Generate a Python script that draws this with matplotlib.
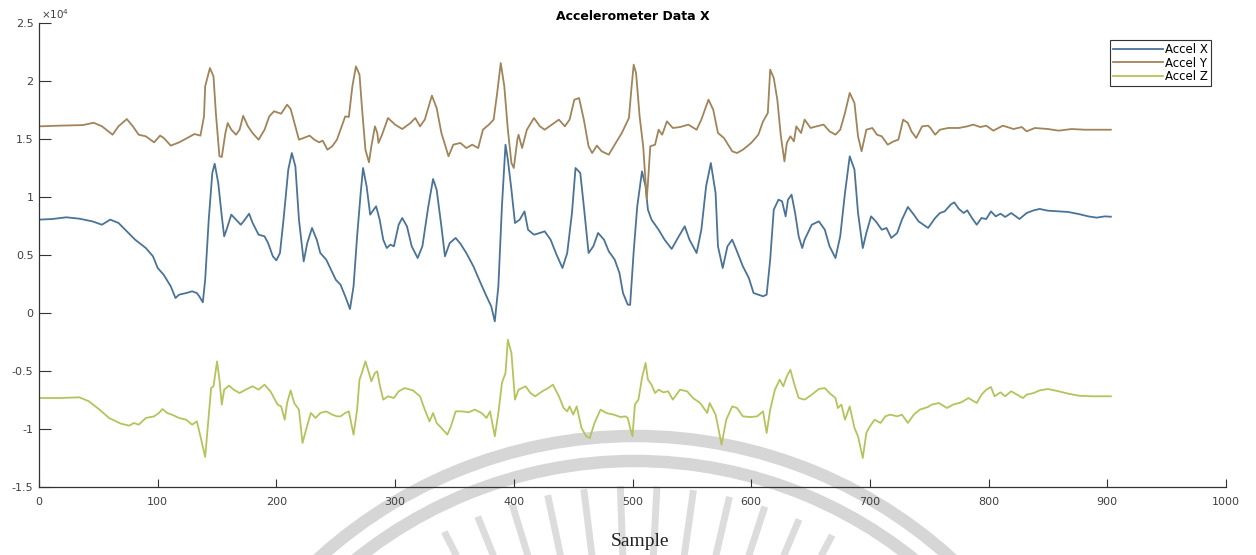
import matplotlib
matplotlib.use('Agg')
import matplotlib.pyplot as plt
from matplotlib.patches import Arc
from matplotlib.ticker import FuncFormatter
import numpy as np

# sample index / raw reading pairs for each axis of the accelerometer
x_idx = [0, 11, 23, 34, 45, 53, 60, 67, 74, 81, 90, 96, 100, 105, 111, 115, 118, 124, 129, 133,
         135, 138, 140, 143, 146, 148, 151, 154, 156, 158, 162, 166, 170, 173, 177, 180, 185, 190,
         193, 197, 200, 203, 206, 210, 213, 216, 219, 223, 226, 230, 234, 237, 242, 246, 250, 254,
         258, 262, 265, 268, 271, 273, 276, 279, 282, 284, 287, 290, 293, 296, 299, 303, 306, 310,
         314, 319, 323, 328, 332, 335, 339, 342, 346, 351, 355, 360, 366, 372, 377, 381, 384, 387,
         390, 393, 395, 398, 401, 405, 409, 412, 417, 422, 426, 431, 436, 441, 445, 449, 452, 456,
         459, 463, 467, 471, 476, 480, 485, 489, 492, 496, 498, 501, 504, 508, 511, 513, 516, 522,
         527, 533, 539, 544, 548, 554, 558, 562, 566, 570, 572, 576, 580, 584, 588, 593, 598, 602,
         606, 610, 613, 616, 619, 623, 626, 629, 631, 634, 637, 640, 643, 645, 651, 657, 662, 666,
         671, 675, 679, 683, 687, 690, 694, 697, 701, 705, 710, 714, 718, 723, 727, 732, 737, 741,
         745, 749, 755, 759, 763, 768, 771, 775, 779, 782, 786, 790, 794, 798, 802, 806, 810, 814,
         819, 823, 826, 832, 838, 843, 850, 859, 867, 876, 884, 891, 898, 903]
accel_x = [8050, 8100, 8250, 8130, 7900, 7610, 8050, 7760, 7040, 6320, 5600, 4890, 3880, 3300, 2300,
           1290, 1580, 1720, 1870, 1720, 1440, 920, 2870, 8050, 12070, 12870, 11210, 8330, 6610,
           7180, 8480, 8050, 7610, 7990, 8560, 7760, 6750, 6610, 6030, 4890, 4540, 5170, 8050, 12360,
           13790, 12640, 8050, 4450, 6030, 7330, 6320, 5170, 4600, 3740, 2870, 2440, 1440, 340, 2300,
           6610, 10340, 12500, 10920, 8480, 8910, 9200, 8050, 6320, 5600, 5890, 5750, 7610, 8190,
           7470, 5750, 4740, 5750, 9200, 11550, 10630, 7470, 4890, 6030, 6470, 5980, 5170, 4020,
           2590, 1440, 570, -720, 2300, 9200, 14510, 13220, 10630, 7760, 8050, 8760, 7180, 6750, 6900,
           7040, 6320, 5030, 3880, 5170, 8620, 12500, 12070, 9200, 5170, 5750, 6900, 6320, 5320, 4600,
           3450, 1720, 720, 700, 5300, 9200, 12210, 10920, 8910, 8050, 7180, 6320, 5520, 6610, 7470,
           6320, 5170, 7180, 10920, 12930, 10340, 5750, 3880, 5750, 6320, 5320, 4020, 3020, 1720,
           1580, 1440, 1580, 4600, 8910, 9770, 9630, 8330, 9770, 10200, 8620, 6610, 5600, 6320, 7610,
           7900, 7180, 5750, 4740, 6610, 10340, 13510, 12360, 8620, 5600, 6900, 8330, 7900, 7180,
           7330, 6470, 6900, 8050, 9140, 8480, 7900, 7610, 7330, 8190, 8620, 8760, 9340, 9540, 8970,
           8620, 8850, 8190, 7610, 8190, 8100, 8760, 8330, 8560, 8280, 8620, 8330, 8100, 8620, 8850,
           8970, 8820, 8760, 8710, 8530, 8330, 8220, 8330, 8300]

y_idx = [0, 17, 37, 46, 53, 62, 67, 74, 79, 84, 90, 97, 102, 105, 111, 118, 125, 131, 136, 139,
         140, 144, 147, 149, 152, 154, 157, 159, 162, 166, 169, 172, 176, 180, 185, 190, 194, 198,
         204, 209, 212, 216, 219, 223, 228, 232, 236, 239, 243, 247, 251, 253, 258, 261, 264, 267,
         270, 272, 275, 278, 280, 283, 285, 286, 289, 294, 300, 306, 313, 317, 321, 325, 331, 335,
         339, 345, 349, 355, 360, 365, 370, 374, 379, 383, 386, 389, 392, 395, 398, 400, 403, 404,
         407, 411, 417, 422, 426, 432, 438, 443, 447, 451, 455, 459, 463, 466, 470, 474, 480, 485,
         491, 497, 499, 501, 503, 506, 509, 512, 513, 515, 519, 522, 525, 529, 534, 540, 547, 554,
         558, 564, 568, 572, 577, 584, 588, 593, 600, 606, 610, 614, 616, 619, 622, 625, 628, 630,
         633, 636, 638, 642, 645, 650, 655, 661, 666, 671, 675, 679, 683, 687, 690, 693, 697, 702,
         706, 710, 715, 720, 724, 728, 732, 735, 739, 744, 749, 751, 755, 759, 766, 775, 782, 787,
         793, 798, 804, 812, 821, 828, 832, 839, 850, 859, 870, 881, 892, 903]
accel_y = [16090, 16150, 16200, 16400, 16100, 15370, 16100, 16720, 16100, 15370, 15230, 14710, 15290,
           15100, 14430, 14710, 15090, 15430, 15290, 16950, 19540, 21120, 20400, 17240, 13510,
           13450, 15500, 16380, 15800, 15370, 15800, 17000, 16100, 15500, 14940, 15800, 16950,
           17390, 17180, 17960, 17590, 16090, 14940, 15090, 15290, 14940, 14710, 14860, 14080,
           14370, 14940, 15520, 16950, 16900, 19540, 21260, 20550, 17820, 14080, 12990, 14370,
           16090, 15520, 14660, 15370, 16810, 16240, 15860, 16380, 16810, 16090, 16670, 18740,
           17670, 15520, 13510, 14510, 14660, 14220, 14510, 14220, 15800, 16240, 16670, 18970,
           21550, 19540, 15800, 12930, 12500, 14940, 15370, 14220, 15800, 16810, 16090, 15800,
           16240, 16670, 16090, 16670, 18390, 18530, 16670, 14370, 13790, 14430, 13940, 13650,
           14510, 15520, 16810, 19250, 21410, 20690, 16950, 14370, 9800, 11210, 14370, 14510,
           15800, 15370, 16520, 15950, 16030, 16240, 15800, 16670, 18390, 17530, 15520, 15090,
           13940, 13790, 14080, 14660, 15370, 16520, 17240, 20980, 20260, 18390, 15230, 13070,
           14660, 15230, 14800, 16090, 15520, 16670, 15950, 16090, 16240, 15660, 15370, 15800,
           17240, 18970, 18100, 15230, 13940, 15800, 15950, 15370, 15230, 14510, 14800, 14940,
           16670, 16380, 15660, 15090, 16090, 16150, 15950, 15370, 15800, 15950, 15950, 16090,
           16240, 16030, 16150, 15720, 16150, 15860, 16030, 15660, 15950, 15860, 15720, 15860,
           15800, 15800, 15800]

z_idx = [0, 17, 34, 42, 51, 59, 69, 76, 80, 84, 90, 97, 101, 104, 108, 112, 118, 124, 129, 133,
         136, 140, 142, 145, 147, 150, 152, 154, 156, 160, 164, 169, 174, 180, 185, 190, 195, 201,
         204, 207, 209, 212, 215, 219, 222, 225, 229, 233, 237, 242, 247, 251, 254, 258, 261, 265,
         268, 270, 272, 275, 278, 280, 283, 285, 287, 290, 294, 299, 303, 308, 315, 321, 325, 329,
         332, 335, 339, 344, 347, 351, 356, 362, 367, 373, 377, 380, 384, 387, 390, 393, 395, 398,
         401, 404, 410, 414, 418, 424, 429, 433, 438, 442, 445, 447, 450, 453, 457, 461, 464, 468,
         473, 478, 484, 490, 494, 496, 498, 500, 502, 505, 508, 511, 513, 516, 519, 522, 526, 530,
         534, 540, 546, 551, 557, 563, 565, 570, 572, 575, 579, 584, 588, 593, 599, 605, 610, 613,
         616, 620, 624, 627, 630, 633, 636, 640, 645, 651, 657, 662, 666, 671, 673, 676, 679, 683,
         687, 690, 694, 697, 700, 704, 709, 713, 717, 723, 727, 732, 737, 742, 749, 752, 758, 765,
         770, 777, 783, 790, 794, 798, 802, 805, 810, 814, 819, 824, 829, 832, 838, 843, 850, 859,
         867, 876, 887, 898, 903]
accel_z = [-7330, -7330, -7270, -7610, -8330, -9050, -9540, -9710, -9480, -9630, -9050, -8910, -8620,
           -8280, -8620, -8760, -9050, -9200, -9630, -9340, -10630, -12410, -10060, -6470, -6320,
           -4170, -5750, -7900, -6610, -6260, -6610, -6900, -6610, -6320, -6610, -6180, -6750,
           -7900, -8050, -9200, -7760, -6670, -7760, -8330, -11210, -10060, -8620, -9050, -8620,
           -8480, -8760, -8910, -8910, -8620, -8480, -10490, -8330, -5750, -5170, -4170, -5170,
           -5890, -5170, -5030, -6180, -7470, -7180, -7330, -6750, -6470, -6670, -7180, -8330,
           -9340, -8620, -9480, -9910, -10490, -9770, -8480, -8480, -8560, -8330, -8620, -9050,
           -8480, -10630, -8620, -6030, -5170, -2300, -3450, -7470, -6610, -6320, -6900, -7180,
           -6750, -6470, -6180, -7180, -8190, -8480, -8050, -8760, -8050, -9910, -10630, -10780,
           -9480, -8330, -8620, -8760, -8970, -8910, -9050, -9910, -10630, -7900, -7470, -5600,
           -4310, -5750, -6180, -6900, -6610, -6840, -6750, -7470, -6610, -6750, -7330, -7760,
           -8620, -7760, -8760, -9770, -11350, -9200, -8050, -8190, -8910, -8970, -8910, -8480,
           -10340, -8330, -6610, -5750, -6320, -5460, -4890, -6030, -7330, -7470, -7040, -6550,
           -6470, -6900, -7330, -8190, -7900, -9200, -8050, -9910, -10630, -12500, -10340, -9770,
           -9200, -9480, -8910, -8760, -8910, -8760, -9480, -8760, -8330, -8100, -7900, -7760,
           -8190, -7900, -7700, -7330, -7760, -7040, -6610, -6380, -7180, -6840, -7180, -6750,
           -7040, -7330, -7040, -6900, -6670, -6550, -6750, -6950, -7130, -7180, -7180, -7180]

series = [('Accel X', x_idx, accel_x, '#4a7397'),
          ('Accel Y', y_idx, accel_y, '#a0845a'),
          ('Accel Z', z_idx, accel_z, '#b6c35c')]

W, H = 1256, 555
fig = plt.figure(figsize=(W / 100, H / 100), dpi=100)

# faint seal in the lower margin, drawn in pixel coordinates
bg = fig.add_axes([0, 0, 1, 1], zorder=0)
bg.set_xlim(0, W)
bg.set_ylim(H, 0)
bg.axis('off')
cx, cy = 635, 906
for r in (470, 445):
    bg.add_patch(Arc((cx, cy), 2 * r, 2 * r, theta1=0, theta2=360,
                     color='#d6d6d6', lw=9))
for ang in np.arange(62, 119, 5):
    a = np.radians(ang)
    bg.plot([cx + 330 * np.cos(a), cx + 420 * np.cos(a)],
            [cy - 330 * np.sin(a), cy - 420 * np.sin(a)],
            color='#dcdcdc', lw=5, solid_capstyle='butt')

ax = fig.add_axes([39 / W, 1 - 487 / H, 1187 / W, 464 / H], zorder=1)
ax.patch.set_alpha(0)

for name, idx, vals, col in series:
    ax.plot(idx, vals, color=col, lw=1.3, label=name)

ax.set_xlim(0, 1000)
ax.set_ylim(-15000, 25000)
ax.set_xticks(range(0, 1001, 100))
ax.set_yticks(range(-15000, 25001, 5000))
ax.yaxis.set_major_formatter(FuncFormatter(lambda v, p: '%g' % (v / 1e4)))

for s in ('top', 'right'):
    ax.spines[s].set_visible(False)
for s in ('left', 'bottom'):
    ax.spines[s].set_color('#333333')
    ax.spines[s].set_linewidth(0.9)

ax.tick_params(axis='x', direction='in', length=6, width=0.8, color='#333333',
               labelsize=8, labelcolor='#404040', pad=7)
ax.tick_params(axis='y', direction='in', length=8.5, width=0.8, color='#333333',
               labelsize=8, labelcolor='#404040', pad=4)

ax.text(0.002, 1.005, r'$\times10^{4}$', transform=ax.transAxes, fontsize=7.5,
        color='#404040', ha='left', va='bottom')
ax.set_title('Accelerometer Data X', fontsize=9, fontweight='bold', pad=2)

leg = ax.legend(loc='upper right', bbox_to_anchor=((1211 - 39) / 1187, (487 - 40) / 464),
                borderaxespad=0, fontsize=8.5, handlelength=4.2, handletextpad=0.2,
                labelspacing=0.05, borderpad=0.25, fancybox=False, framealpha=1)
leg.get_frame().set_edgecolor('#333333')
leg.get_frame().set_linewidth(0.8)

fig.text(640 / W, 1 - 542 / H, 'Sample', family='Liberation Serif', fontsize=14,
         ha='center', va='center', color='#222222')

fig.savefig('out.png', dpi=100)
